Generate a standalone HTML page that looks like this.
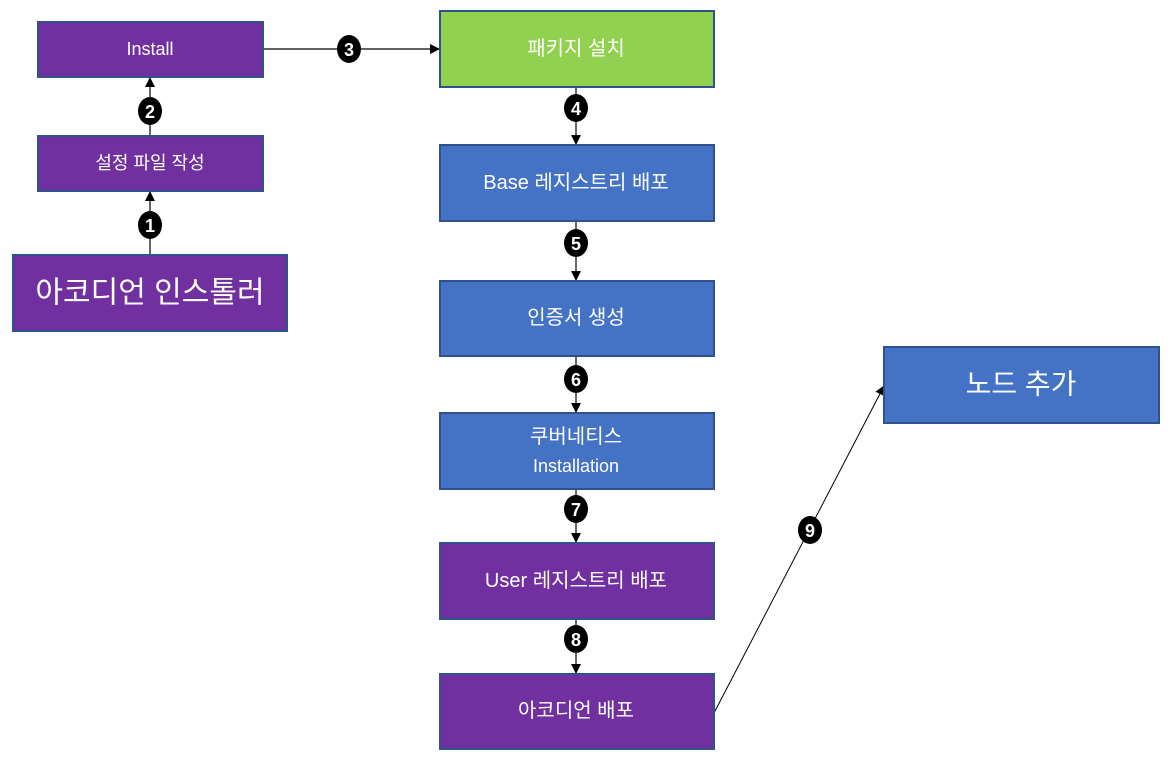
<!DOCTYPE html>
<html><head><meta charset="utf-8"><style>
html,body{margin:0;padding:0;background:#fff;width:1171px;height:764px;overflow:hidden}
text{font-family:"Liberation Sans","Noto Sans CJK KR","NanumGothic",sans-serif;fill:#fff;text-anchor:middle;dominant-baseline:central}
.b{fill:#000;font-weight:bold;font-size:17px}
</style></head><body>
<svg width="1171" height="764" xmlns="http://www.w3.org/2000/svg">
<defs><marker id="a" markerWidth="10" markerHeight="10" refX="9" refY="5" orient="auto" markerUnits="userSpaceOnUse"><path d="M0,0 L10,5 L0,10 z" fill="#000"/></marker></defs>
<g stroke="#000" stroke-width="1.2" fill="none">
<line x1="150" y1="255" x2="150" y2="192" marker-end="url(#a)"/>
<line x1="150" y1="136" x2="150" y2="78" marker-end="url(#a)"/>
<line x1="263" y1="49" x2="439" y2="49" marker-end="url(#a)"/>
<line x1="576" y1="87" x2="576" y2="144" marker-end="url(#a)"/>
<line x1="576" y1="221" x2="576" y2="280" marker-end="url(#a)"/>
<line x1="576" y1="356" x2="576" y2="412" marker-end="url(#a)"/>
<line x1="576" y1="489" x2="576" y2="542" marker-end="url(#a)"/>
<line x1="576" y1="619" x2="576" y2="673" marker-end="url(#a)"/>
<line x1="714" y1="713" x2="884" y2="386" stroke-width="1" marker-end="url(#a)"/>
</g>
<g stroke="#2f528f" stroke-width="2">
<rect x="38" y="22" width="225" height="55" fill="#7030a0"/>
<rect x="38" y="136" width="225" height="55" fill="#7030a0"/>
<rect x="13" y="255" width="274" height="76" fill="#7030a0"/>
<rect x="440" y="11" width="274" height="76" fill="#92d050"/>
<rect x="440" y="145" width="274" height="76" fill="#4472c4"/>
<rect x="440" y="281" width="274" height="75" fill="#4472c4"/>
<rect x="440" y="413" width="274" height="76" fill="#4472c4"/>
<rect x="440" y="543" width="274" height="76" fill="#7030a0"/>
<rect x="440" y="674" width="274" height="75" fill="#7030a0"/>
<rect x="884" y="347" width="275" height="76" fill="#4472c4"/>
</g>
<text x="150" y="49" font-size="18">Install</text>
<text x="150" y="163" font-size="18">설정 파일 작성</text>
<text x="150" y="293" font-size="30">아코디언 인스톨러</text>
<text x="576" y="49" font-size="20">패키지 설치</text>
<text x="576" y="183" font-size="20">Base 레지스트리 배포</text>
<text x="576" y="318" font-size="20">인증서 생성</text>
<text x="576" y="437" font-size="20">쿠버네티스</text>
<text x="576" y="466" font-size="18">Installation</text>
<text x="576" y="581" font-size="20">User 레지스트리 배포</text>
<text x="576" y="711" font-size="20">아코디언 배포</text>
<text x="1021" y="384" font-size="28">노드 추가</text>
<g fill="#000">
<ellipse cx="150" cy="225" rx="12" ry="14"/><ellipse cx="150" cy="111" rx="12" ry="14"/>
<ellipse cx="349" cy="49" rx="12" ry="14"/><ellipse cx="576" cy="108" rx="12" ry="14"/>
<ellipse cx="576" cy="243" rx="12" ry="14"/><ellipse cx="576" cy="379" rx="12" ry="14"/>
<ellipse cx="576" cy="509" rx="12" ry="14"/><ellipse cx="576" cy="639" rx="12" ry="14"/>
<ellipse cx="810" cy="530" rx="12" ry="14"/>
</g>
<g style="fill:#fff;font-weight:bold;font-size:18px">
<text x="150" y="226" style="fill:#fff">1</text><text x="150" y="112" style="fill:#fff">2</text>
<text x="349" y="50" style="fill:#fff">3</text><text x="576" y="109" style="fill:#fff">4</text>
<text x="576" y="244" style="fill:#fff">5</text><text x="576" y="380" style="fill:#fff">6</text>
<text x="576" y="510" style="fill:#fff">7</text><text x="576" y="640" style="fill:#fff">8</text>
<text x="810" y="531" style="fill:#fff">9</text>
</g>
</svg>
</body></html>
